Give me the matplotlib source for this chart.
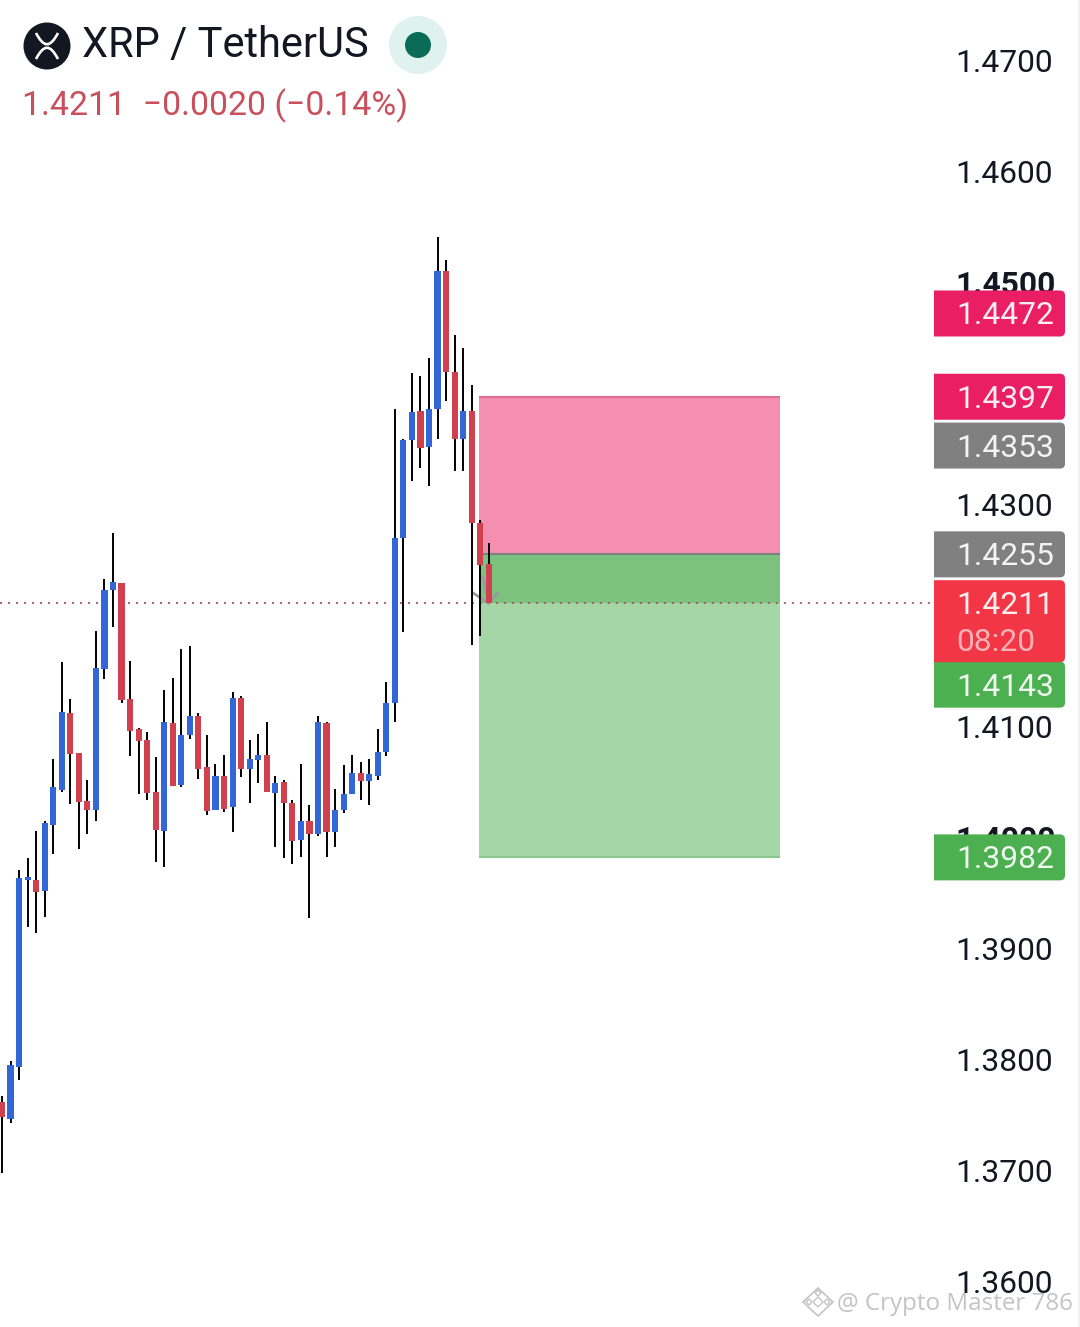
"""XRP / TetherUS candles with a short position box, phone screenshot look."""

import matplotlib
matplotlib.use("Agg")
import matplotlib.pyplot as plt
from matplotlib.patches import Circle, PathPatch, Polygon, Rectangle
from matplotlib.path import Path

plt.rcParams["font.family"] = ["Roboto", "DejaVu Sans"]

W, H = 1080, 1327
PANE_X = 934  # price pane starts here
PX_PER_PRICE = 11100  # 0.01 of price is 111 px
STEP = 8.54  # px per candle
FIRST_X = 2.0
TOP_Y = 60.4  # pixel row of 1.47

opens = [1.3762, 1.3746, 1.3793, 1.3962, 1.3962, 1.3952, 1.4011, 1.4043, 1.4112, 1.4076,
         1.4033, 1.4025, 1.4152, 1.4223, 1.4229, 1.4125, 1.4098, 1.4088, 1.4041, 1.4006,
         1.4103, 1.4047, 1.4092, 1.4109, 1.4063, 1.4025, 1.4055, 1.4027, 1.4126, 1.4062,
         1.4070, 1.4074, 1.4040, 1.4050, 1.4031, 1.3998, 1.4015, 1.4003, 1.4103, 1.4005,
         1.4025, 1.4039, 1.4058, 1.4051, 1.4055, 1.4077, 1.4121, 1.4270, 1.4358, 1.4384,
         1.4352, 1.4386, 1.4510, 1.4419, 1.4359, 1.4384, 1.4283, 1.4246]
highs = [1.3767, 1.3799, 1.3971, 1.3981, 1.4006, 1.4015, 1.4071, 1.4158, 1.4125, 1.4076,
         1.4052, 1.4186, 1.4233, 1.4274, 1.4229, 1.4159, 1.4099, 1.4095, 1.4072, 1.4133,
         1.4144, 1.4170, 1.4172, 1.4112, 1.4092, 1.4066, 1.4074, 1.4131, 1.4127, 1.4088,
         1.4093, 1.4104, 1.4055, 1.4052, 1.4034, 1.4066, 1.4029, 1.4109, 1.4104, 1.4044,
         1.4065, 1.4074, 1.4068, 1.4071, 1.4098, 1.4140, 1.4386, 1.4359, 1.4418, 1.4416,
         1.4432, 1.4541, 1.4520, 1.4453, 1.4441, 1.4408, 1.4286, 1.4265]
lows = [1.3698, 1.3743, 1.3781, 1.3919, 1.3914, 1.3928, 1.3985, 1.4041, 1.4030, 1.3990,
        1.4003, 1.4015, 1.4143, 1.4190, 1.4121, 1.4073, 1.4039, 1.4034, 1.3978, 1.3973,
        1.4046, 1.4045, 1.4089, 1.4053, 1.4020, 1.4025, 1.4023, 1.4005, 1.4054, 1.4031,
        1.4049, 1.4041, 1.3991, 1.3981, 1.3976, 1.3982, 1.3927, 1.4001, 1.3982, 1.3991,
        1.4022, 1.4039, 1.4034, 1.4029, 1.4052, 1.4073, 1.4104, 1.4185, 1.4321, 1.4333,
        1.4317, 1.4359, 1.4393, 1.4330, 1.4330, 1.4173, 1.4181, 1.4211]
closes = [1.3748, 1.3795, 1.3963, 1.3964, 1.3951, 1.4013, 1.4045, 1.4113, 1.4075, 1.4032,
          1.4025, 1.4153, 1.4223, 1.4230, 1.4124, 1.4096, 1.4087, 1.4040, 1.4007, 1.4104,
          1.4046, 1.4092, 1.4109, 1.4062, 1.4024, 1.4055, 1.4026, 1.4126, 1.4062, 1.4071,
          1.4074, 1.4041, 1.4049, 1.4031, 1.3997, 1.4015, 1.4003, 1.4104, 1.4005, 1.4025,
          1.4039, 1.4058, 1.4051, 1.4057, 1.4077, 1.4121, 1.4270, 1.4358, 1.4383, 1.4351,
          1.4386, 1.4510, 1.4419, 1.4359, 1.4384, 1.4283, 1.4245, 1.4211]

axis_ticks = [1.36, 1.37, 1.38, 1.39, 1.40, 1.41, 1.42, 1.43, 1.44, 1.45, 1.46, 1.47]
bold_ticks = [1.40, 1.45]

last_price = 1.4211
stop_price = 1.4397
entry_price = 1.4255
target_price = 1.3982
box_start, box_end = 55.85, 91.1  # candle index

tag_prices = [1.4472, 1.4397, 1.4353, 1.4255, 1.4143, 1.3982]
tag_colors = ["#E91E63", "#E91E63", "#808080", "#808080", "#4CAF50", "#4CAF50"]
tag_shift_px = [0, 0, 0, 0, 6, 0]  # 1.4143 gets pushed down by the price tag

BLUE = "#3366D6"
RED = "#D1404F"
INK = "#131722"
AXIS_SIZE = 22.9

n = len(opens)
xs = list(range(n))

fig = plt.figure(figsize=(W / 100, H / 100), dpi=100, facecolor="white")
ymax = 1.47 + TOP_Y / PX_PER_PRICE
ymin = 1.47 - (H - TOP_Y) / PX_PER_PRICE

ax = fig.add_axes([0, 0, PANE_X / W, 1])
ax.set_xlim(-FIRST_X / STEP, (PANE_X - FIRST_X) / STEP)
ax.set_ylim(ymin, ymax)
ax.set_xticks([])
for side in ax.spines.values():
    side.set_visible(False)

# price axis labels sit right of the chart pane
ax.yaxis.tick_right()
ax.set_yticks(axis_ticks)
ax.set_yticklabels([f"{t:.4f}" for t in axis_ticks])
ax.tick_params(axis="y", length=0, pad=21 * 0.72, labelsize=AXIS_SIZE, labelcolor=INK)
for t, lab in zip(axis_ticks, ax.get_yticklabels()):
    if t in bold_ticks:
        lab.set_fontweight("bold")

# position box
ax.add_patch(Rectangle((box_start, entry_price), box_end - box_start, stop_price - entry_price,
                       fc="#F48FB1", ec="none", zorder=1))
ax.add_patch(Rectangle((box_start, target_price), box_end - box_start, last_price - target_price,
                       fc="#A5D6A7", ec="none", zorder=1))
ax.add_patch(Rectangle((box_start, last_price), box_end - box_start, entry_price - last_price,
                       fc="#7CC27E", ec="none", zorder=1))
ax.hlines(stop_price, box_start, box_end, color="#DE6C93", lw=1.5, zorder=2)
ax.hlines(entry_price, box_start, box_end, color="#808080", lw=1.5, zorder=2)
ax.hlines(target_price, box_start, box_end, color="#8CC68F", lw=1.5, zorder=2)

# last price line
ax.plot([ax.get_xlim()[0], ax.get_xlim()[1]], [last_price, last_price],
        color="#A85060", lw=1.3, linestyle=(0, (1.1, 3.33)), zorder=2)

# arrow of the position tool
arrow_color = "#9A9A9A"
ax.plot([56.3, 57], [1.4235, last_price], color=arrow_color, lw=2, zorder=3)
ax.plot([55.2, 57, 58], [1.4220, last_price, 1.4220], color=arrow_color, lw=2, zorder=3)

# candles
colors = [BLUE if c >= o else RED for o, c in zip(opens, closes)]
ax.vlines(xs, lows, highs, color="black", lw=1.4, zorder=4)
ax.bar(xs, [abs(c - o) for o, c in zip(opens, closes)],
       bottom=[min(o, c) for o, c in zip(opens, closes)],
       width=0.72, color=colors, zorder=5)

# price tags
pane = fig.add_axes([PANE_X / W, 0, 1 - PANE_X / W, 1], facecolor="none")
pane.set_xlim(PANE_X, W)
pane.set_ylim(ymin, ymax)
pane.axis("off")
TAG_H = 46 / PX_PER_PRICE
TAG_W = 131
TAG_TEXT_X = 956
TEXT_NUDGE = 2.5 / PX_PER_PRICE  # centred text sits a bit high otherwise


def draw_tag(bottom, height, color):
    """Tag with rounded corners on the right side only."""
    right = PANE_X + TAG_W
    top = bottom + height
    rx, ry = 5, 5 / PX_PER_PRICE
    verts = [(PANE_X, bottom), (right - rx, bottom), (right, bottom), (right, bottom + ry),
             (right, top - ry), (right, top), (right - rx, top), (PANE_X, top), (PANE_X, bottom)]
    codes = [Path.MOVETO, Path.LINETO, Path.CURVE3, Path.CURVE3,
             Path.LINETO, Path.CURVE3, Path.CURVE3, Path.LINETO, Path.CLOSEPOLY]
    pane.add_patch(PathPatch(Path(verts, codes), fc=color, ec="none"))


for price, col, shift in zip(tag_prices, tag_colors, tag_shift_px):
    centre = price - shift / PX_PER_PRICE
    draw_tag(centre - TAG_H / 2, TAG_H, col)
    pane.text(TAG_TEXT_X, centre - TEXT_NUDGE, f"{price:.4f}", color="white", fontsize=AXIS_SIZE,
              va="center", ha="left", alpha=0.92)

# last price tag with countdown
draw_tag(last_price - 59 / PX_PER_PRICE, 82 / PX_PER_PRICE, "#F23645")
pane.text(TAG_TEXT_X, last_price - TEXT_NUDGE, f"{last_price:.4f}", color="white",
          fontsize=AXIS_SIZE, va="center", ha="left", alpha=0.92)
pane.text(TAG_TEXT_X, last_price - 37 / PX_PER_PRICE - TEXT_NUDGE, "08:20", color="white",
          fontsize=AXIS_SIZE, va="center", ha="left", alpha=0.62)

# pixel overlay for the header and watermark
hud = fig.add_axes([0, 0, 1, 1], facecolor="none")
hud.set_xlim(0, W)
hud.set_ylim(H, 0)
hud.axis("off")

hud.add_patch(Circle((47, 46), 23.5, fc=INK, ec="none"))
for pts in ([(36, 33), (44, 48), (50, 48), (58, 33)], [(36, 59), (44, 44), (50, 44), (58, 59)]):
    curve = Path(pts, [Path.MOVETO, Path.CURVE4, Path.CURVE4, Path.CURVE4])
    hud.add_patch(PathPatch(curve, fc="none", ec="white", lw=1.9))

hud.text(82, 46, "XRP / TetherUS", color=INK, fontsize=30, va="center", ha="left")
hud.add_patch(Circle((418, 45), 29, fc="#DFF2EE", ec="none"))
hud.add_patch(Circle((418, 45), 13, fc="#0A6B57", ec="none"))
hud.text(22, 106, "1.4211  \u22120.0020 (\u22120.14%)", color="#C8505C", fontsize=24.4,
         va="center", ha="left")

# watermark
wm = "#C4C4C4"
hud.text(837, 1304, "@ Crypto Master 786", color=wm, fontsize=17.4, family="Open Sans",
         va="center", ha="left")
hud.add_patch(Polygon([(818, 1288), (833, 1302), (818, 1316), (803, 1302)], closed=True,
                      fc="none", ec=wm, lw=1.2))
for cx, cy, r in [(818, 1302, 5), (809, 1302, 3), (827, 1302, 3), (818, 1293, 3)]:
    hud.add_patch(Polygon([(cx, cy - r), (cx + r, cy), (cx, cy + r), (cx - r, cy)], closed=True,
                          fc="none", ec=wm, lw=1.0))

# faint edge of the screenshot
hud.vlines(1079, 0, H, color="#EDEDED", lw=1.2)

fig.savefig("out.png", dpi=100)
plt.close(fig)
